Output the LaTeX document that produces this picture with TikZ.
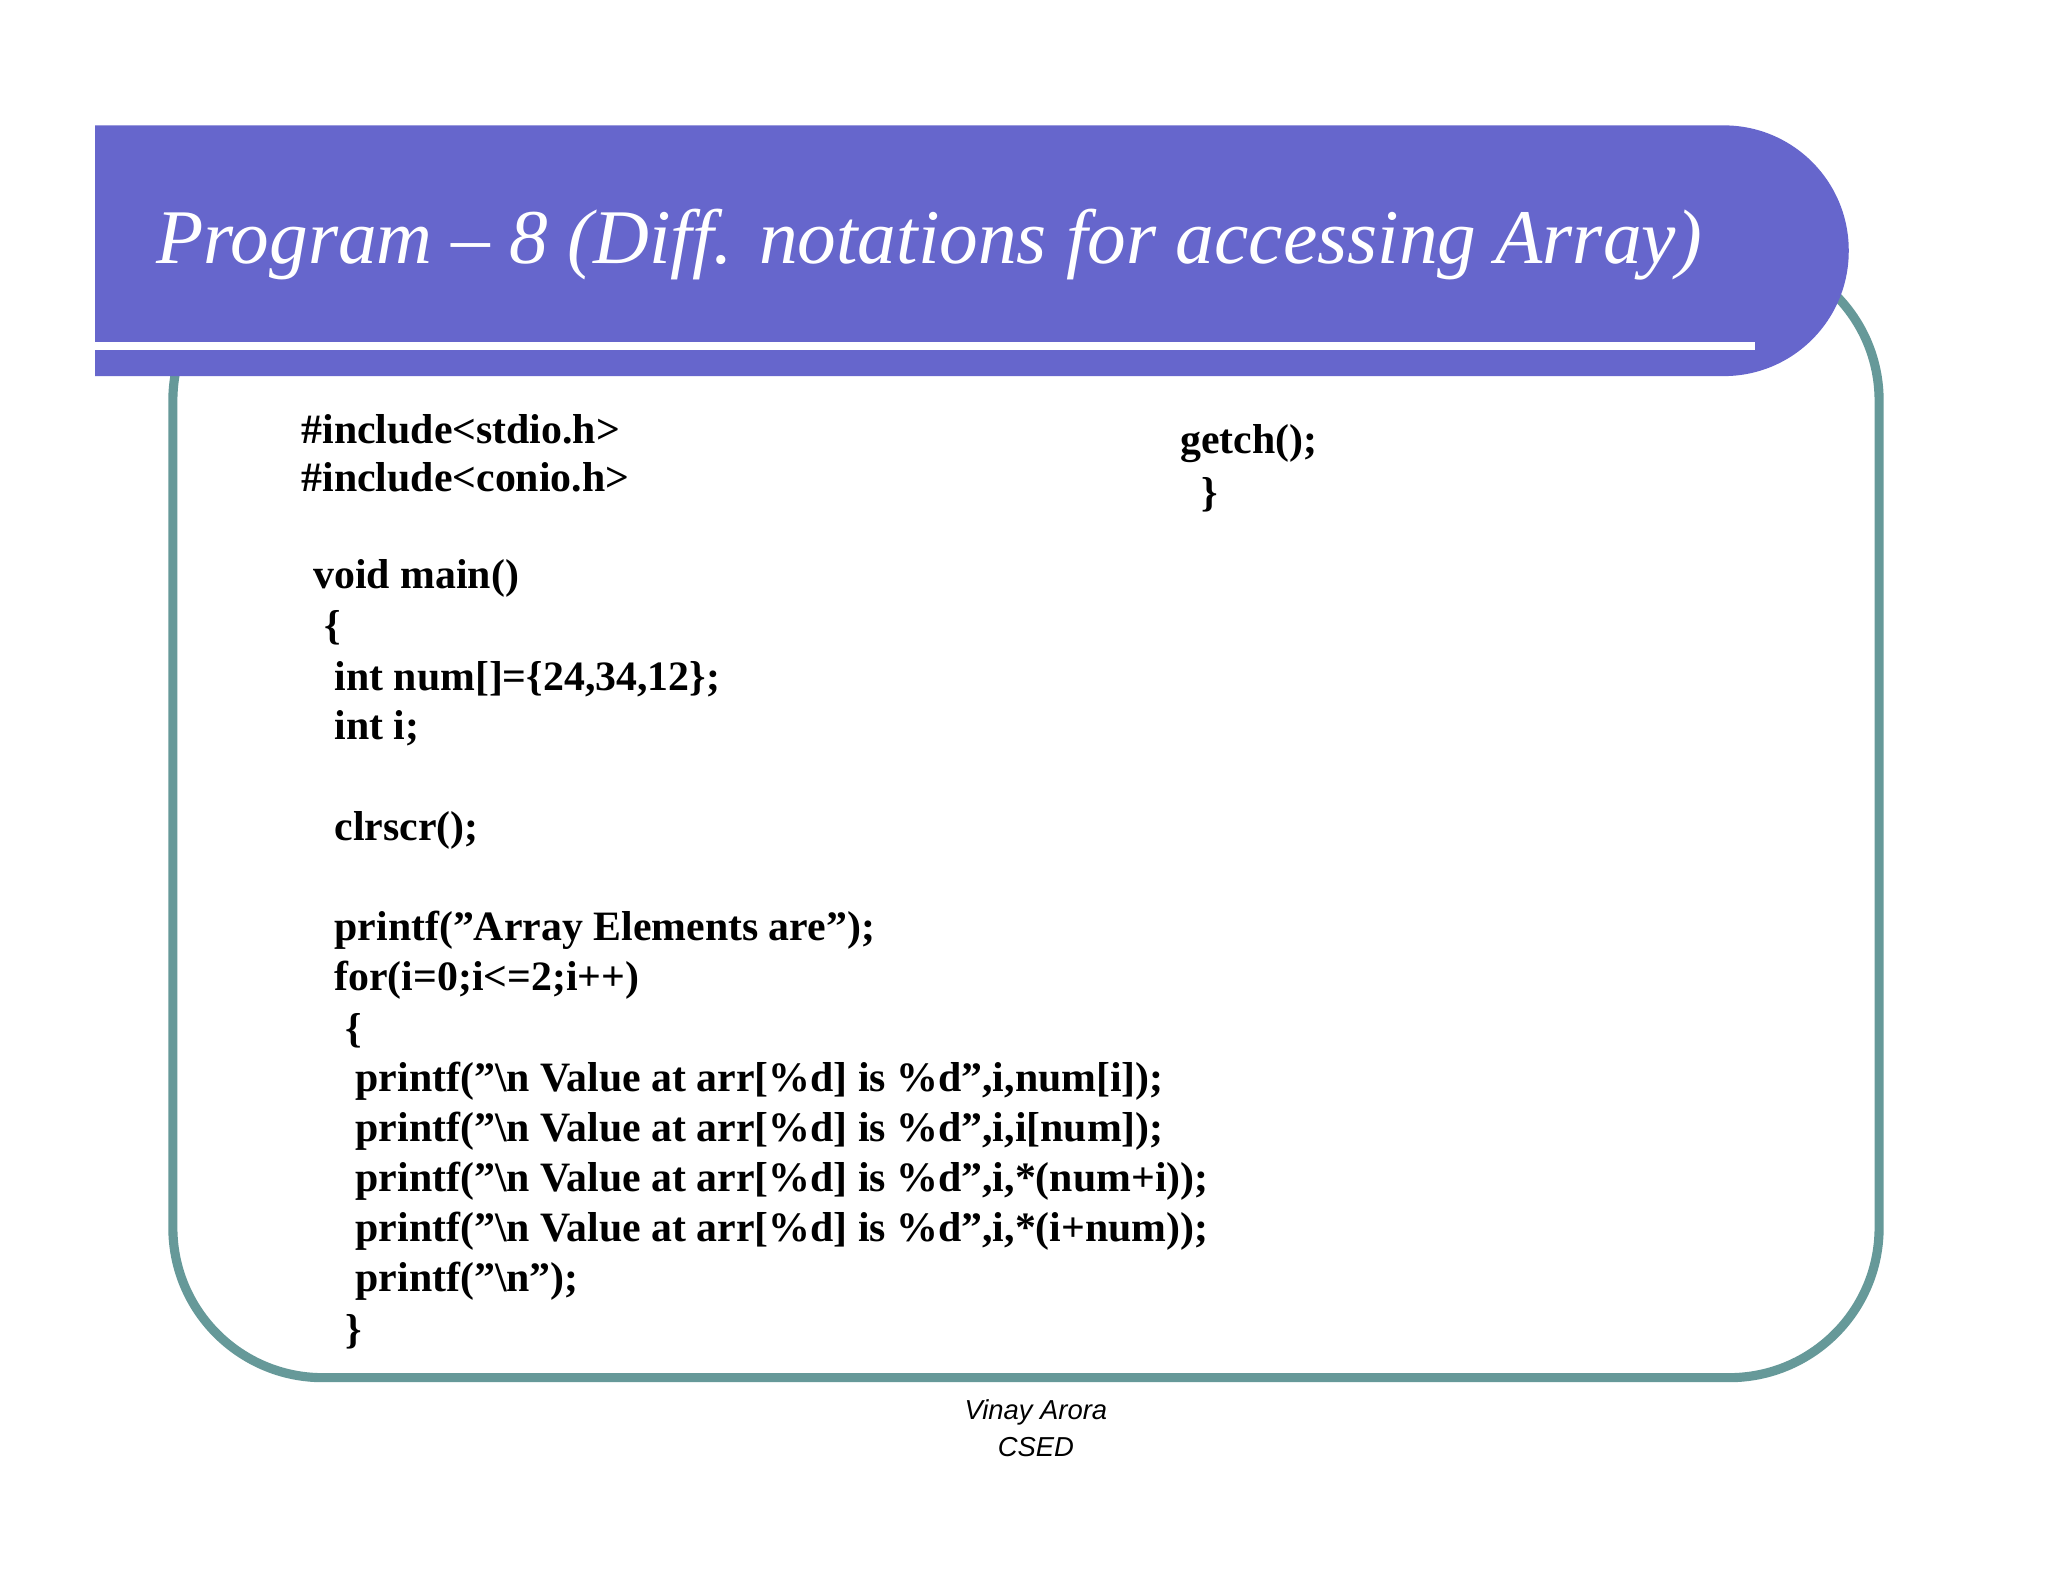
\documentclass[tikz,border=0pt]{standalone}
\usepackage{fontspec}
\setmainfont{Liberation Serif}
\newfontfamily\footfont{Liberation Sans}
\definecolor{barblue}{HTML}{6666CC}
\definecolor{frameteal}{HTML}{669999}
\newcommand\dq{\char34\relax}
\begin{document}
\begin{tikzpicture}[x=0.013196cm,y=-0.013196cm,
  code/.style={anchor=west,inner sep=0pt,font=\fontsize{11.9}{14}\selectfont\bfseries}]
\useasboundingbox[fill=white] (0,0) rectangle (1552,1200);
\draw[frameteal,line width=2.6pt,rounded corners=1.5cm] (131,190) rectangle (1424,1044);
\fill[barblue] (72,95) [rounded corners=1.25cm] -- (1401,95) -- (1401,285) [sharp corners] -- (72,285) -- cycle;
\fill[white] (72,259) rectangle (1330,265);
\node[anchor=base west,inner sep=0pt,text=white,font=\fontsize{22}{24}\selectfont\itshape] (title) at (118,200) {Program -- 8 (Diff. notations for accessing Array)};
\node[code] (l1) at (228,325) {\#include<stdio.h>};
\node[code] (l2) at (228,362) {\#include<conio.h>};
\node[code] (l3) at (237,438) {void main()};
\node[code] (l4) at (245,476) {\{};
\node[code] (l5) at (253,515) {int num[]=\{24,34,12\};};
\node[code] (l6) at (253,552) {int i;};
\node[code] (l7) at (253,629) {clrscr();};
\node[code] (l8) at (253,705) {printf(\dq Array Elements are\dq);};
\node[code] (l9) at (253,743) {for(i=0;i<=2;i++)};
\node[code] (l10) at (261,781) {\{};
\node[code] (l11) at (269,819) {printf(\dq\textbackslash n Value at arr[\%d] is \%d\dq,i,num[i]);};
\node[code] (l12) at (269,857) {printf(\dq\textbackslash n Value at arr[\%d] is \%d\dq,i,i[num]);};
\node[code] (l13) at (269,895) {printf(\dq\textbackslash n Value at arr[\%d] is \%d\dq,i,*(num+i));};
\node[code] (l14) at (269,933) {printf(\dq\textbackslash n Value at arr[\%d] is \%d\dq,i,*(i+num));};
\node[code] (l15) at (269,971) {printf(\dq\textbackslash n\dq);};
\node[code] (l16) at (261,1009) {\}};
\node[code] (g1) at (894,336) {getch();};
\node[code] (g2) at (910,375) {\}};
\node[font=\footfont\fontsize{7.8}{10.5}\selectfont\itshape,align=center,inner sep=0pt] (foot) at (785,1082) {Vinay Arora\\CSED};
\end{tikzpicture}
\end{document}
